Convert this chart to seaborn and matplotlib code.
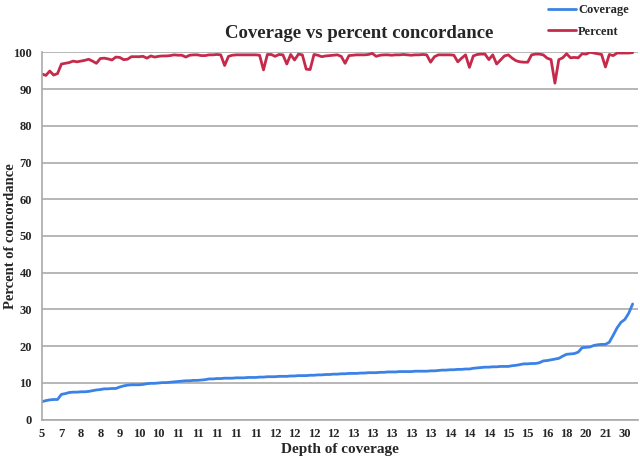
import matplotlib
matplotlib.use("Agg")
import matplotlib.pyplot as plt
import seaborn as sns
import pandas as pd
import numpy as np

# Values (153 samples, sorted by coverage)
coverage = [
    4.9, 5.2, 5.4, 5.5, 5.5, 6.9, 7.1, 7.4, 7.5, 7.5,
    7.6, 7.6, 7.7, 7.9, 8.1, 8.2, 8.4, 8.4, 8.5, 8.5,
    8.9, 9.2, 9.4, 9.5, 9.5, 9.5, 9.6, 9.8, 9.9, 9.9,
    10.0, 10.1, 10.1, 10.2, 10.3, 10.4, 10.5, 10.6, 10.6, 10.7,
    10.7, 10.8, 10.9, 11.1, 11.1, 11.2, 11.2, 11.3, 11.3, 11.3,
    11.4, 11.4, 11.4, 11.5, 11.5, 11.5, 11.6, 11.6, 11.7, 11.7,
    11.7, 11.8, 11.8, 11.8, 11.9, 11.9, 12.0, 12.0, 12.0, 12.1,
    12.1, 12.2, 12.2, 12.3, 12.3, 12.4, 12.4, 12.5, 12.5, 12.6,
    12.6, 12.6, 12.7, 12.7, 12.8, 12.8, 12.8, 12.9, 12.9, 13.0,
    13.0, 13.0, 13.1, 13.1, 13.1, 13.1, 13.2, 13.2, 13.2, 13.2,
    13.3, 13.3, 13.4, 13.5, 13.5, 13.6, 13.6, 13.7, 13.7, 13.8,
    13.8, 14.0, 14.1, 14.2, 14.3, 14.3, 14.4, 14.4, 14.5, 14.5,
    14.5, 14.7, 14.8, 15.0, 15.2, 15.2, 15.3, 15.3, 15.5, 16.0,
    16.1, 16.3, 16.5, 16.7, 17.3, 17.8, 17.9, 18.0, 18.4, 19.6,
    19.7, 19.8, 20.2, 20.4, 20.5, 20.5, 21.1, 23.0, 25.0, 26.5,
    27.3, 29.0, 31.5,
]

percent = [
    94.1, 93.7, 94.9, 93.8, 94.2, 96.8, 97.0, 97.2, 97.6, 97.4,
    97.6, 97.8, 98.1, 97.6, 97.0, 98.3, 98.4, 98.2, 97.9, 98.7,
    98.6, 98.0, 98.1, 98.8, 98.8, 98.8, 98.9, 98.4, 99.0, 98.7,
    98.9, 99.0, 99.0, 99.1, 99.3, 99.2, 99.2, 98.7, 99.2, 99.3,
    99.3, 99.1, 99.1, 99.3, 99.3, 99.4, 99.3, 96.4, 98.9, 99.2,
    99.3, 99.3, 99.3, 99.3, 99.3, 99.3, 99.2, 95.2, 99.4, 99.4,
    98.9, 99.4, 99.3, 96.8, 99.4, 97.9, 99.5, 99.3, 95.4, 95.3,
    99.4, 99.2, 98.8, 99.0, 99.1, 99.2, 99.3, 98.9, 97.0, 99.1,
    99.2, 99.3, 99.3, 99.3, 99.4, 99.7, 98.9, 99.2, 99.3, 99.3,
    99.2, 99.3, 99.3, 99.4, 99.3, 99.2, 99.3, 99.3, 99.4, 99.3,
    97.3, 98.8, 99.3, 99.3, 99.3, 99.3, 99.2, 97.4, 98.4, 99.3,
    95.9, 99.0, 99.4, 99.5, 99.5, 98.0, 99.3, 96.8, 97.9, 99.0,
    99.3, 98.4, 97.7, 97.4, 97.3, 97.3, 99.3, 99.5, 99.5, 99.3,
    98.4, 98.0, 91.6, 98.0, 98.5, 99.6, 98.5, 98.6, 98.5, 99.6,
    99.5, 100.0, 99.8, 99.6, 99.4, 96.0, 99.4, 99.1, 99.8, 99.8,
    99.8, 99.8, 99.9,
]

# every 5th sample carries a category label on the x axis
tick_labels = ["5", "7", "8", "8", "9", "10", "10", "11", "11", "11",
               "11", "11", "12", "12", "12", "12", "13", "13", "13", "13",
               "13", "14", "14", "14", "15", "15", "16", "18", "20", "21", "30"]

df = pd.DataFrame({"idx": np.arange(len(coverage)),
                   "Coverage": coverage, "Percent": percent})

sns.set_theme(style="white")
plt.rcParams["font.family"] = ["Liberation Serif", "DejaVu Serif"]
plt.rcParams["font.weight"] = "bold"

fig = plt.figure(figsize=(6.4, 4.57), dpi=100)
ax = fig.add_axes([0.065, 0.0816, 0.932, 0.804])

blue = "#3b82e6"
red = "#c62a4b"
sns.lineplot(data=df, x="idx", y="Coverage", ax=ax, color=blue, lw=2.0, label="Coverage")
sns.lineplot(data=df, x="idx", y="Percent", ax=ax, color=red, lw=2.0, label="Percent")

ax.set_ylim(0, 100)
ax.set_xlim(-0.1, 153.4)
ax.set_yticks(range(0, 101, 10))
ax.set_xticks(range(0, 5 * len(tick_labels), 5))
ax.set_xticklabels(tick_labels)
ax.tick_params(axis="both", length=0, labelsize=9)
ax.tick_params(axis="y", pad=7)
ax.tick_params(axis="x", pad=6)
for lab in ax.get_xticklabels() + ax.get_yticklabels():
    lab.set_fontweight("bold")

ax.yaxis.grid(True, color="#aaaaaa", lw=1.2)
ax.xaxis.grid(False)
for side in ["top", "right"]:
    ax.spines[side].set_visible(False)
ax.spines["left"].set_color("#aaaaaa")
ax.spines["bottom"].set_color("#aaaaaa")
ax.spines["left"].set_linewidth(1.2)
ax.spines["bottom"].set_linewidth(1.2)

ax.set_xlabel("Depth of coverage", fontsize=11, fontweight="bold", labelpad=2)
ax.set_ylabel("Percent of concordance", fontsize=10.5, fontweight="bold")
ax.yaxis.set_label_coords(-0.041, 0.5)
fig.text(0.562, 0.927, "Coverage vs percent concordance", ha="center", va="center",
         fontsize=13.5, fontweight="bold")

handles, labels = ax.get_legend_handles_labels()
ax.get_legend().remove()
fig.legend(handles, labels, loc="upper right", bbox_to_anchor=(1.0, 1.015), frameon=False,
           prop={"weight": "bold", "size": 9}, handlelength=2.2, handletextpad=0.2,
           labelspacing=0.75)

fig.savefig("out.png", dpi=100)
